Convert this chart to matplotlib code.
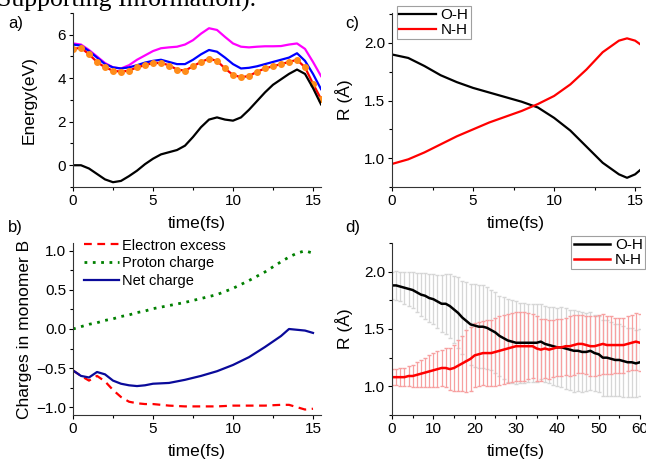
import numpy as np
import matplotlib
matplotlib.use('Agg')
import matplotlib.pyplot as plt

plt.rcParams['font.family'] = ['Liberation Sans', 'DejaVu Sans']

# panel a: energies (eV) every 0.5 fs
t_a = np.arange(0, 15.51, 0.5)
e_black = [0.0, 0.0, -0.15, -0.4, -0.65, -0.78, -0.72, -0.5, -0.25, 0.05, 0.3, 0.5, 0.6, 0.7, 0.9, 1.3,
           1.75, 2.1, 2.2, 2.1, 2.05, 2.2, 2.55, 2.95, 3.35, 3.7, 3.95, 4.2, 4.4, 4.2, 3.55, 2.8]
e_magenta = [5.6, 5.55, 5.3, 5.0, 4.7, 4.5, 4.45, 4.6, 4.85, 5.05, 5.25, 5.38, 5.42, 5.45, 5.55, 5.75,
             6.05, 6.3, 6.22, 5.9, 5.6, 5.45, 5.42, 5.45, 5.47, 5.47, 5.48, 5.55, 5.6, 5.35, 4.75, 4.1]
e_blue = [5.55, 5.5, 5.25, 4.95, 4.65, 4.5, 4.45, 4.5, 4.6, 4.72, 4.8, 4.85, 4.75, 4.65, 4.65, 4.85,
          5.1, 5.3, 5.22, 4.95, 4.65, 4.45, 4.48, 4.55, 4.65, 4.75, 4.85, 4.95, 5.15, 4.8, 4.2, 3.5]
e_red = [5.35, 5.4, 5.1, 4.75, 4.5, 4.35, 4.3, 4.35, 4.5, 4.6, 4.7, 4.7, 4.6, 4.4, 4.35, 4.55,
         4.75, 4.9, 4.8, 4.45, 4.15, 4.05, 4.1, 4.3, 4.45, 4.55, 4.65, 4.75, 4.85, 4.5, 3.75, 3.05]
e_orange = [5.33, 5.38, 5.12, 4.75, 4.5, 4.33, 4.3, 4.35, 4.5, 4.62, 4.7, 4.68, 4.57, 4.4, 4.35, 4.55,
            4.75, 4.9, 4.8, 4.45, 4.15, 4.05, 4.1, 4.3, 4.45, 4.55, 4.65, 4.75, 4.83, 4.5, 3.75, 3.05]

# panel b: charges in monomer B
t_b = [0, 0.5, 1, 1.5, 2, 2.5, 3, 3.5, 4, 4.5, 5, 6, 7, 8, 9, 10, 11, 12, 13, 13.5, 14, 14.5, 15]
q_electron = [-0.53, -0.6, -0.66, -0.6, -0.67, -0.78, -0.87, -0.93, -0.95, -0.96, -0.96, -0.98, -0.99,
              -0.99, -0.99, -0.98, -0.98, -0.98, -0.97, -0.97, -1.0, -1.03, -1.02]
q_proton = [0.0, 0.03, 0.06, 0.08, 0.11, 0.13, 0.16, 0.18, 0.21, 0.23, 0.26, 0.3, 0.34, 0.39, 0.44,
            0.52, 0.62, 0.73, 0.86, 0.92, 0.97, 1.0, 0.97]
q_net = [-0.53, -0.6, -0.62, -0.55, -0.58, -0.66, -0.7, -0.72, -0.73, -0.72, -0.7, -0.69, -0.65, -0.6,
         -0.54, -0.46, -0.36, -0.23, -0.09, 0.0, -0.01, -0.02, -0.05]

# panel c: distances (A)
t_c = [0, 1, 2, 3, 4, 5, 6, 7, 8, 9, 10, 11, 12, 13, 14, 14.5, 15, 15.5]
r_oh = [1.9, 1.87, 1.8, 1.72, 1.66, 1.61, 1.57, 1.53, 1.49, 1.44, 1.35, 1.24, 1.1, 0.96, 0.86, 0.83, 0.86, 0.92]
r_nh = [0.95, 0.99, 1.05, 1.12, 1.19, 1.25, 1.31, 1.36, 1.41, 1.47, 1.54, 1.64, 1.77, 1.92, 2.02, 2.04, 2.02, 1.97]

# panel d: averaged distances with spread, every 1 fs
t_d = np.arange(0, 61)
oh_mean = [1.88, 1.88, 1.87, 1.86, 1.85, 1.84, 1.82, 1.80, 1.79, 1.77, 1.76, 1.74, 1.72, 1.72, 1.70,
           1.67, 1.64, 1.60, 1.57, 1.54, 1.53, 1.52, 1.52, 1.51, 1.49, 1.47, 1.44, 1.42, 1.40, 1.39,
           1.38, 1.38, 1.38, 1.38, 1.38, 1.38, 1.39, 1.37, 1.36, 1.35, 1.34, 1.34, 1.33, 1.32, 1.31,
           1.31, 1.30, 1.30, 1.31, 1.29, 1.28, 1.25, 1.25, 1.24, 1.23, 1.23, 1.22, 1.21, 1.21, 1.20, 1.21]
nh_mean = [1.08, 1.08, 1.08, 1.08, 1.09, 1.09, 1.10, 1.11, 1.12, 1.13, 1.14, 1.15, 1.16, 1.16, 1.15,
           1.16, 1.18, 1.20, 1.22, 1.24, 1.27, 1.28, 1.29, 1.29, 1.29, 1.30, 1.31, 1.32, 1.33, 1.34,
           1.35, 1.35, 1.35, 1.35, 1.35, 1.33, 1.32, 1.33, 1.32, 1.33, 1.34, 1.34, 1.35, 1.35, 1.36,
           1.37, 1.37, 1.36, 1.35, 1.35, 1.36, 1.37, 1.36, 1.36, 1.36, 1.36, 1.36, 1.37, 1.38, 1.39, 1.38]
oh_err = [0.12, 0.13, 0.13, 0.14, 0.15, 0.16, 0.17, 0.19, 0.20, 0.21, 0.22, 0.23, 0.25, 0.26, 0.28,
          0.29, 0.31, 0.32, 0.34, 0.35, 0.36, 0.36, 0.36, 0.36, 0.35, 0.35, 0.35, 0.36, 0.36, 0.36,
          0.36, 0.35, 0.35, 0.34, 0.34, 0.34, 0.33, 0.33, 0.33, 0.34, 0.34, 0.35, 0.35, 0.35, 0.36,
          0.35, 0.35, 0.34, 0.34, 0.33, 0.33, 0.33, 0.33, 0.32, 0.31, 0.31, 0.31, 0.30, 0.30, 0.29, 0.29]
nh_err = [0.07, 0.07, 0.08, 0.08, 0.09, 0.10, 0.11, 0.12, 0.13, 0.14, 0.15, 0.16, 0.16, 0.17, 0.18,
          0.20, 0.22, 0.24, 0.27, 0.28, 0.28, 0.28, 0.28, 0.29, 0.29, 0.30, 0.30, 0.30, 0.30, 0.30,
          0.30, 0.30, 0.30, 0.29, 0.28, 0.28, 0.27, 0.26, 0.26, 0.25, 0.25, 0.25, 0.25, 0.26, 0.26,
          0.25, 0.25, 0.25, 0.26, 0.26, 0.26, 0.26, 0.25, 0.25, 0.24, 0.24, 0.24, 0.24, 0.24, 0.25, 0.25]

W, H = 646, 461
fig = plt.figure(figsize=(W / 100, H / 100), dpi=100)

TICK = 11
LABEL = 12.5


def box(l, t, r, b):
    return [l / W, 1 - b / H, (r - l) / W, (b - t) / H]


def style(ax):
    for s in ['top', 'right']:
        ax.spines[s].set_visible(False)
    for s in ['left', 'bottom']:
        ax.spines[s].set_linewidth(0.8)
        ax.spines[s].set_color('#333333')
    ax.tick_params(which='major', direction='out', length=3, width=0.8, labelsize=TICK, pad=2)
    ax.tick_params(which='minor', direction='out', length=2, width=0.8)


def boxed_legend(ax, **kw):
    leg = ax.legend(fontsize=11, handlelength=2.4, borderaxespad=0.0, fancybox=False,
                    labelspacing=0.05, handletextpad=0.3, borderpad=0.15, **kw)
    leg.get_frame().set_edgecolor('#888888')
    leg.get_frame().set_linewidth(0.8)


# a)
ax = fig.add_axes(box(73, 13, 321, 187))
ax.plot(t_a, e_magenta, color='#ff00ff', lw=1.6)
ax.plot(t_a, e_blue, color='#0000ff', lw=1.6)
ax.plot(t_a, e_red, color='#ff0000', lw=1.6)
ax.plot(t_a, e_orange, color='#ff8c1a', lw=0, marker='o', ms=4)
ax.plot(t_a, e_black, color='black', lw=1.6)
ax.set_xlim(0, 15.5)
ax.set_ylim(-1, 7)
ax.set_xticks([0, 5, 10, 15])
ax.set_xticks([2.5, 7.5, 12.5], minor=True)
ax.set_yticks([0, 2, 4, 6])
ax.set_yticks([-1, 1, 3, 5, 7], minor=True)
ax.set_xlabel('time(fs)', fontsize=LABEL, labelpad=6)
ax.set_ylabel('Energy(eV)', fontsize=LABEL, labelpad=15)
style(ax)

# b)
ax = fig.add_axes(box(73, 243, 321, 415))
ax.plot(t_b, q_electron, color='#ff0000', lw=1.6, ls=(0, (3.5, 2.5)), label='Electron excess')
ax.plot(t_b, q_proton, color='#008000', lw=2, ls=(0, (1, 2)), label='Proton charge')
ax.plot(t_b, q_net, color='#0a0a9a', lw=1.6, label='Net charge')
ax.set_xlim(0, 15.5)
ax.set_ylim(-1.1, 1.1)
ax.set_xticks([0, 5, 10, 15])
ax.set_xticks([2.5, 7.5, 12.5], minor=True)
ax.set_yticks([-1.0, -0.5, 0.0, 0.5, 1.0])
ax.set_yticks([-0.75, -0.25, 0.25, 0.75], minor=True)
ax.set_xlabel('time(fs)', fontsize=LABEL, labelpad=6)
ax.set_ylabel('Charges in monomer B', fontsize=LABEL, labelpad=3)
ax.legend(loc='upper left', frameon=False, fontsize=10.5, handlelength=2.4, borderaxespad=0.0,
          labelspacing=0.25, handletextpad=0.25, bbox_to_anchor=(0.02, 1.06))
style(ax)

# c)
ax = fig.add_axes(box(392, 13, 640, 187))
ax.plot(t_c, r_oh, color='black', lw=1.6, label='O-H')
ax.plot(t_c, r_nh, color='#ff0000', lw=1.6, label='N-H')
ax.set_xlim(0, 15.3)
ax.set_ylim(0.75, 2.26)
ax.set_xticks([0, 5, 10, 15])
ax.set_xticks([2.5, 7.5, 12.5], minor=True)
ax.set_yticks([1.0, 1.5, 2.0])
ax.set_yticks([0.75, 1.25, 1.75, 2.25], minor=True)
ax.set_xlabel('time(fs)', fontsize=LABEL, labelpad=6)
ax.set_ylabel('R (Å)', fontsize=LABEL, labelpad=8)
boxed_legend(ax, loc='upper left', bbox_to_anchor=(0.02, 1.04))
style(ax)

# d)
ax = fig.add_axes(box(392, 243, 640, 415))
ax.errorbar(t_d, oh_mean, yerr=oh_err, fmt='none', ecolor='#d6d6d6', elinewidth=0.9, capsize=1.5)
ax.errorbar(t_d, nh_mean, yerr=nh_err, fmt='none', ecolor='#f7a0a0', elinewidth=0.9, capsize=1.5)
ax.plot(t_d, oh_mean, color='black', lw=1.8, label='O-H')
ax.plot(t_d, nh_mean, color='#ff0000', lw=1.8, label='N-H')
ax.set_xlim(0, 60)
ax.set_ylim(0.75, 2.25)
ax.set_xticks(np.arange(0, 61, 10))
ax.set_xticks(np.arange(5, 60, 10), minor=True)
ax.set_yticks([1.0, 1.5, 2.0])
ax.set_yticks([0.75, 1.25, 1.75, 2.25], minor=True)
ax.set_xlabel('time(fs)', fontsize=LABEL, labelpad=6)
ax.set_ylabel('R (Å)', fontsize=LABEL, labelpad=8)
boxed_legend(ax, loc='upper right', bbox_to_anchor=(1.02, 1.04))
style(ax)

# panel letters and clipped caption text at top
fig.text(8 / W, 1 - 28 / H, 'a)', fontsize=12)
fig.text(8 / W, 1 - 232 / H, 'b)', fontsize=12)
fig.text(345 / W, 1 - 28 / H, 'c)', fontsize=12)
fig.text(345 / W, 1 - 232 / H, 'd)', fontsize=12)
fig.text(-3 / W, 1 - 7 / H, 'Supporting Information).', fontsize=18.5, family='Liberation Serif',
         va='baseline')

fig.savefig('out.png', dpi=100)
